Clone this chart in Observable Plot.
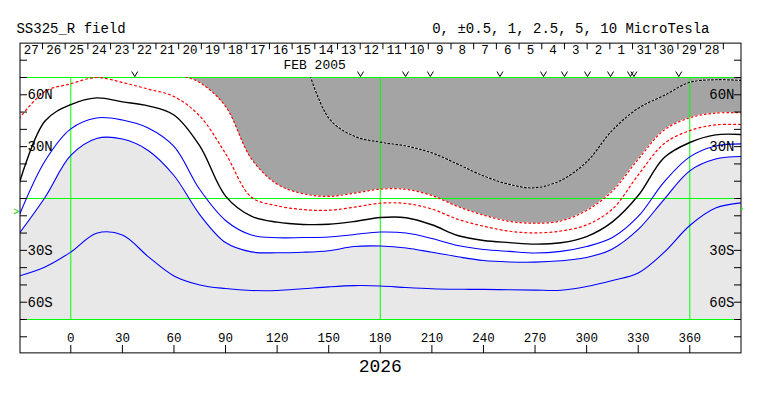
<!DOCTYPE html>
<html><head><meta charset="utf-8">
<script src="https://cdn.jsdelivr.net/npm/d3@7"></script>
<script src="https://cdn.jsdelivr.net/npm/@observablehq/plot@0.6"></script>
<style>body{margin:0;background:#fff}</style>
</head><body><div id="chart"></div>
<script>
// ---- data (longitude grid, degrees) ----
const lon = [-30,-15,0,15,30,45,60,75,90,105,120,135,150,165,180,195,210,225,240,255,270,285,300,315,330,345,360,375,390];
// boundary of dark-gray (negative) region, latitude
const grayEdge = [88,88,88,88,88,85,73,67.1,53.3,23.0,8.3,2.8,1.2,3.1,5.4,5.3,1.7,-4.6,-9.6,-13.2,-14.3,-13.0,-6.9,4.3,22.7,39.5,46.7,49.4,49.6];
// dotted black/white contour inside the dark region
const dotLine = [null,null,null,null,null,null,null,null,null,null,null,84,46.6,36.0,32.6,30.4,26.4,19.9,13.1,8.2,6.2,10.5,21.2,39.5,52.2,59.6,67.2,68.7,68.3];
// red dotted contour
const redIn = [46.3,61.9,66.4,70.0,67.1,63.3,59.0,47.7,26.0,0.8,-4.2,-6.4,-6.8,-5.0,-2.7,-2.9,-6.1,-12.0,-16.0,-18.9,-19.9,-18.8,-15.3,-6.1,13.6,31.7,39.3,42.6,42.8];
// neutral line (black)
const neutral = [8.7,44.8,54.3,58.2,55.9,53.6,48.3,30.4,1.4,-10.2,-13.7,-15.0,-14.9,-13.3,-11.0,-11.1,-15.2,-21.4,-24.3,-25.5,-26.4,-25.6,-22.0,-13.5,1.7,23.6,32.4,36.8,37.0];
// blue contours
const blue1 = [-9.8,21.7,40.3,46.6,45.4,40.8,30.1,5.2,-12.7,-21.1,-22.7,-22.6,-22.3,-20.8,-19.4,-20.0,-23.1,-27.2,-29.5,-30.6,-31.5,-30.6,-27.8,-22.6,-10.4,9.5,24.1,30.4,31.6];
const blue2 = [-20.2,0.6,24.9,34.7,34.4,27.8,13.3,-9.3,-25.5,-30.9,-31.4,-31.1,-30.2,-27.8,-27.5,-28.6,-31.1,-33.7,-35.9,-36.7,-36.8,-36.0,-34.1,-29.2,-17.9,-0.6,16.0,22.8,24.3];
const blue3 = [-44.8,-39.6,-31.0,-20.1,-21.1,-33.6,-44.8,-50.0,-52.1,-53.2,-53.2,-52.2,-51.1,-50.4,-50.6,-51.5,-52.2,-52.5,-52.6,-52.8,-53.0,-53.1,-50.9,-47.4,-43.1,-31.2,-15.6,-5.5,-2.5];

// axes / labels
const lonTicks = [0,30,60,90,120,150,180,210,240,270,300,330,360];
const latTicks = [-80,-70,-60,-50,-40,-30,-20,-10,0,10,20,30,40,50,60,70,80];
const latLabelValues = [60,30,-30,-60];
const latLabelText = ["60N","30N","30S","60S"];
const dayLabels = ["27","26","25","24","23","22","21","20","19","18","17","16","15","14","13","12","11","10","9","8","7","6","5","4","3","2","1","31","30","29","28"];
const firstDayBoundaryLon = -16.46;
const carringtonDayDeg = 360 / 27.2753;
const markLons = [37.2,168.5,194.7,209.1,249.6,274.9,287.1,300.5,313.9,325.5,327.5,353.6];
const b0Left = -7.5, b0Right = -6;
const titleLeft = "SS325_R field";
const titleRight = "0, \u00B10.5, 1, 2.5, 5, 10 MicroTesla";
const monthLabel = "FEB 2005";
const rotationLabel = "2026";

// ---- build ----
const xDom = [-29.25, 390.07];
const TOP = 70, BOT = -70, FRAME = 89.6;
const rows = lon.map((d, i) => ({lon: d, grayEdge: grayEdge[i], dotLine: dotLine[i], redIn: redIn[i],
  neutral: neutral[i], blue1: blue1[i], blue2: blue2[i], blue3: blue3[i]}));
const dayBounds = dayLabels.map((_, i) => firstDayBoundaryLon + carringtonDayDeg * i);
const dayRows = dayLabels.map((t, i) => ({t, lon: firstDayBoundaryLon - carringtonDayDeg / 2 + carringtonDayDeg * i}));
const latLabels = latLabelValues.map((v, i) => ({lat: v, t: latLabelText[i]}));
const tickDeg = 4.07;
const curve = "catmull-rom";
const FONT = "Liberation Mono, Courier New, monospace";
const vSymbol = {draw(ctx) { ctx.moveTo(-3, -2.5); ctx.lineTo(0, 2.5); ctx.lineTo(3, -2.5); }};

const line = (key, opts) => Plot.line(rows, {x: "lon", y: key, curve, clip: true, ...opts});

const chart = Plot.plot({
  width: 763, height: 396,
  marginTop: 77, marginBottom: 77, marginLeft: 20, marginRight: 22,
  x: {domain: xDom, axis: null},
  y: {domain: [BOT, TOP], axis: null},
  style: {background: "#fff", color: "#000", fontFamily: FONT},
  marks: [
    Plot.areaY(rows, {x: "lon", y1: BOT, y2: "blue2", fill: "#e8e8e8", curve, clip: true}),
    Plot.areaY(rows, {x: "lon", y1: "grayEdge", y2: TOP, fill: "#a4a4a4", curve, clip: true}),
    Plot.ruleY([BOT, 0, TOP], {stroke: "#00ff00"}),
    Plot.ruleX([0, 180, 360], {y1: BOT, y2: TOP, stroke: "#00ff00"}),
    line("dotLine", {stroke: "#fff", strokeWidth: 1.2}),
    line("dotLine", {stroke: "#000", strokeWidth: 1.2, strokeDasharray: "2,2"}),
    line("grayEdge", {stroke: "#ff0000", strokeWidth: 1.2, strokeDasharray: "1.5,3"}),
    line("redIn", {stroke: "#ff0000", strokeWidth: 1.2, strokeDasharray: "2,3"}),
    line("neutral", {stroke: "#000", strokeWidth: 1.4}),
    line("blue1", {stroke: "#0000ff", strokeWidth: 1.1}),
    line("blue2", {stroke: "#0000ff", strokeWidth: 1.1}),
    line("blue3", {stroke: "#0000ff", strokeWidth: 1.1}),
    // frame
    Plot.rect([0], {x1: xDom[0], x2: xDom[1], y1: -FRAME, y2: FRAME, stroke: "#000", fill: "none"}),
    // side ticks
    Plot.ruleY(latTicks, {x1: xDom[0], x2: xDom[0] + tickDeg, stroke: "#000"}),
    Plot.ruleY(latTicks, {x1: xDom[1] - tickDeg, x2: xDom[1], stroke: "#000"}),
    Plot.text(latLabels, {x: xDom[0] + tickDeg, y: "lat", text: "t", textAnchor: "start", fontSize: 14}),
    Plot.text(latLabels, {x: xDom[1] - tickDeg, y: "lat", text: "t", textAnchor: "end", fontSize: 14}),
    // bottom axis
    Plot.ruleX(lonTicks, {y1: -FRAME, y2: -85, stroke: "#000"}),
    Plot.text(lonTicks, {x: d => d, y: -80.8, text: d => String(d), fontSize: 12.5}),
    Plot.text([rotationLabel], {x: 180, y: -97.2, text: d => d, fontSize: 18}),
    // header
    Plot.ruleX(dayBounds, {y1: FRAME, y2: 86, stroke: "#000"}),
    Plot.text(dayRows, {x: "lon", y: 86.0, text: "t", fontSize: 12.5}),
    Plot.text([monthLabel], {x: 141.8, y: 77.6, text: d => d, fontSize: 13}),
    Plot.dot(markLons, {x: d => d, y: 72.0, symbol: vSymbol, stroke: "#000", strokeWidth: 1, fill: "none", r: 3}),
    Plot.text([titleLeft], {x: -31.6, y: 98.5, text: d => d, textAnchor: "start", fontSize: 14}),
    Plot.text([titleRight], {x: 210.2, y: 98.5, text: d => d, textAnchor: "start", fontSize: 14}),
    // B0 markers
    Plot.text([b0Left], {x: -31.7, y: d => d, text: () => ">", fill: "#00cc00", fontSize: 10}),
    Plot.ruleY([b0Right], {x1: xDom[1], x2: xDom[1] + 1, stroke: "#00ff00", strokeWidth: 2})
  ]
});
document.getElementById("chart").appendChild(chart);
</script>
</body></html>
